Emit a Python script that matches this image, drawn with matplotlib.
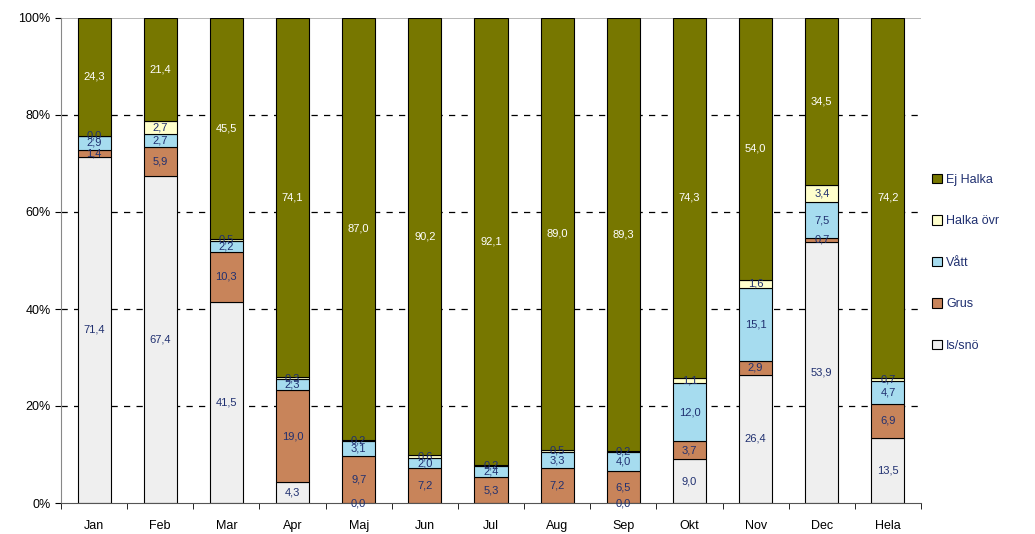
import numpy as np
from matplotlib import pyplot as plt
from matplotlib.ticker import FixedLocator, FuncFormatter

plt.rcParams['font.family'] = ['Liberation Sans', 'DejaVu Sans']

months = ['Jan', 'Feb', 'Mar', 'Apr', 'Maj', 'Jun', 'Jul', 'Aug', 'Sep', 'Okt', 'Nov', 'Dec', 'Hela']
nan = np.nan
is_sno    = [71.4, 67.4, 41.5, 4.3, 0.0, nan, nan, nan, 0.0, 9.0, 26.4, 53.9, 13.5]
grus      = [1.4, 5.9, 10.3, 19.0, 9.7, 7.2, 5.3, 7.2, 6.5, 3.7, 2.9, 0.7, 6.9]
vatt      = [2.9, 2.7, 2.2, 2.3, 3.1, 2.0, 2.4, 3.3, 4.0, 12.0, 15.1, 7.5, 4.7]
halka_ovr = [0.0, 2.7, 0.5, 0.3, 0.2, 0.6, 0.2, 0.5, 0.2, 1.1, 1.6, 3.4, 0.7]
ej_halka  = [24.3, 21.4, 45.5, 74.1, 87.0, 90.2, 92.1, 89.0, 89.3, 74.3, 54.0, 34.5, 74.2]

series = [('Is/snö', is_sno, '#efefef', '#203070'),
          ('Grus', grus, '#c8845a', '#203070'),
          ('Vått', vatt, '#a6dcef', '#203070'),
          ('Halka övr', halka_ovr, '#ffffcc', '#203070'),
          ('Ej Halka', ej_halka, '#777700', 'white')]

fh = plt.figure(figsize=(10.35, 5.34), dpi=100)
ah = fh.add_axes([61/1035, 31/534, 860/1035, 485/534])

x = np.arange(len(months))
bottom = np.zeros(len(months))
handles = []
for name, vals, col, tcol in series:
    v = np.array(vals, dtype=float)
    h = np.nan_to_num(v)
    bars = ah.bar(x, h, 0.5, bottom=bottom, color=col, edgecolor='black', linewidth=0.8, label=name, zorder=2)
    handles.append(bars)
    for i in range(len(months)):
        if not np.isnan(v[i]):
            ah.text(x[i], bottom[i] + h[i] / 2, ('%.1f' % v[i]).replace('.', ','),
                    ha='center', va='center', fontsize=8, color=tcol, zorder=3)
    bottom = bottom + h

ah.set_xlim(-0.5, len(months) - 0.5)
ah.set_ylim(0, 100)
for yv in [20, 40, 60, 80]:
    ah.axhline(yv, color='black', linestyle=(0, (5, 5)), linewidth=0.9, zorder=1)
ah.axhline(100, color='#aaaaaa', linewidth=1.2, zorder=1)

ah.set_xticks(x)
ah.set_xticklabels(months, fontsize=9)
ah.xaxis.set_minor_locator(FixedLocator(np.arange(-0.5, len(months), 1)))
ah.tick_params(axis='x', which='major', length=0, pad=12)
ah.tick_params(axis='x', which='minor', length=4, direction='out')
ah.set_yticks([0, 20, 40, 60, 80, 100])
ah.yaxis.set_major_formatter(FuncFormatter(lambda v, p: '%d%%' % v))
ah.tick_params(axis='y', labelsize=9, length=4)

for s in ['top', 'right']:
    ah.spines[s].set_visible(False)
ah.spines['left'].set_color('#888888')
ah.spines['bottom'].set_color('#555555')

leg = ah.legend(handles=handles[::-1], loc='center left', bbox_to_anchor=(1.0, 0.495),
                frameon=False, fontsize=9, handlelength=0.8, handleheight=0.8,
                handletextpad=0.3, labelspacing=2.35, labelcolor='#203070')

plt.savefig('out.png', dpi=100)
